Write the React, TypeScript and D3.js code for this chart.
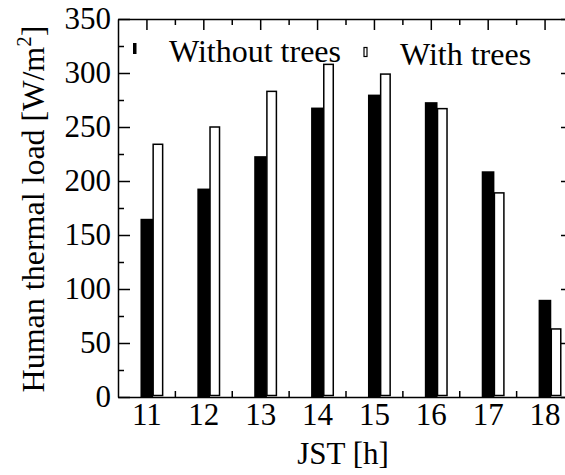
import React, { useRef, useEffect } from 'react';
import * as d3 from 'd3';

// JST hours and human thermal load [W/m2]
const hours = [11, 12, 13, 14, 15, 16, 17, 18];
const withoutTrees = [165, 193, 223, 268, 280, 273, 209, 90];
const withTrees = [234, 250, 283, 308, 299, 267, 189, 63];
const yMajorTicks = [0, 50, 100, 150, 200, 250, 300, 350];
const yMinorTicks = [25, 75, 125, 175, 225, 275, 325];
const xMinorTicks = [11.5, 12.5, 13.5, 14.5, 15.5, 16.5, 17.5];

const seriesNames = ['Without trees', 'With trees'];

export default function App() {
  const svgRef = useRef<SVGSVGElement>(null);

  const width = 565;
  const height = 475;
  const margin = { top: 19, right: -8, bottom: 78, left: 118 };
  const font = '"Liberation Serif", "Times New Roman", serif';

  useEffect(() => {
    if (!svgRef.current) return;
    const svg = d3.select(svgRef.current);
    svg.selectAll('*').remove();

    const innerWidth = width - margin.left - margin.right;
    const innerHeight = height - margin.top - margin.bottom;

    const x = d3.scaleLinear().domain([10.5, 18.5]).range([0, innerWidth]);
    const y = d3.scaleLinear().domain([0, 350]).range([innerHeight, 0]);

    const g = svg.append('g').attr('transform', `translate(${margin.left},${margin.top})`);

    // bars
    const data = hours.map((h, i) => ({ h, a: withoutTrees[i], b: withTrees[i] }));
    g.selectAll('.bar-a')
      .data(data)
      .enter()
      .append('rect')
      .attr('class', 'bar-a')
      .attr('x', d => x(d.h - 0.105))
      .attr('y', d => y(d.a))
      .attr('width', x(0.118) - x(-0.105))
      .attr('height', d => y(0) - y(d.a))
      .attr('fill', '#000');

    g.selectAll('.bar-b')
      .data(data)
      .enter()
      .append('rect')
      .attr('class', 'bar-b')
      .attr('x', d => x(d.h + 0.118))
      .attr('y', d => y(d.b))
      .attr('width', x(0.285) - x(0.118))
      .attr('height', d => y(0) - y(d.b) - 1.5)
      .attr('fill', '#fff')
      .attr('stroke', '#000')
      .attr('stroke-width', 1.5);

    const styleAxis = (sel: d3.Selection<SVGGElement, unknown, null, undefined>) => {
      sel.selectAll('.domain').attr('stroke', '#000').attr('stroke-width', 1.5);
      sel.selectAll('line').attr('stroke', '#000').attr('stroke-width', 1.5);
    };

    // left axis
    const left = g.append('g').call(
      d3.axisLeft(y).tickValues(yMajorTicks).tickSize(-12).tickPadding(7).tickSizeOuter(0)
    );
    left.attr('font-family', font).attr('font-size', 31);
    left.selectAll('text').attr('fill', '#000');
    styleAxis(left);
    g.append('g')
      .call(d3.axisLeft(y).tickValues(yMinorTicks).tickSize(-6).tickFormat(() => '').tickSizeOuter(0))
      .call(styleAxis)
      .call(s => s.select('.domain').remove());

    // right axis
    const right = g.append('g').attr('transform', `translate(${innerWidth},0)`);
    right.call(d3.axisRight(y).tickValues(yMajorTicks).tickSize(-12).tickFormat(() => '').tickSizeOuter(0)).call(styleAxis);
    right.append('g')
      .call(d3.axisRight(y).tickValues(yMinorTicks).tickSize(-6).tickFormat(() => '').tickSizeOuter(0))
      .call(styleAxis)
      .call(s => s.select('.domain').remove());

    // bottom axis
    const bottom = g.append('g').attr('transform', `translate(0,${innerHeight})`);
    bottom.call(d3.axisBottom(x).tickValues(hours).tickSize(-12).tickPadding(6).tickSizeOuter(0).tickFormat(d3.format('d')));
    bottom.attr('font-family', font).attr('font-size', 31);
    bottom.selectAll('text').attr('fill', '#000').attr('dy', '0.71em');
    styleAxis(bottom);
    g.append('g')
      .attr('transform', `translate(0,${innerHeight})`)
      .call(d3.axisBottom(x).tickValues(xMinorTicks).tickSize(-6).tickFormat(() => '').tickSizeOuter(0))
      .call(styleAxis)
      .call(s => s.select('.domain').remove());

    // top axis
    const top = g.append('g');
    top.call(d3.axisTop(x).tickValues(hours).tickSize(-11).tickFormat(() => '').tickSizeOuter(0)).call(styleAxis);
    top.append('g')
      .call(d3.axisTop(x).tickValues(xMinorTicks).tickSize(-6).tickFormat(() => '').tickSizeOuter(0))
      .call(styleAxis)
      .call(s => s.select('.domain').remove());

    // axis titles
    svg.append('text')
      .attr('x', 343)
      .attr('y', 464)
      .attr('text-anchor', 'middle')
      .attr('font-family', font)
      .attr('font-size', 31)
      .text('JST [h]');

    const yTitle = svg.append('text')
      .attr('transform', 'translate(44,209) rotate(-90)')
      .attr('text-anchor', 'middle')
      .attr('font-family', font)
      .attr('font-size', 32);
    yTitle.append('tspan').text('Human thermal load [W/m');
    yTitle.append('tspan').attr('font-size', 21).attr('dy', -13).text('2');
    yTitle.append('tspan').attr('dy', 13).text(']');

    // legend
    const legend = svg.append('g').attr('font-family', font).attr('font-size', 32);
    legend.append('rect').attr('x', 133).attr('y', 43).attr('width', 3.5).attr('height', 11).attr('fill', '#000');
    legend.append('text').attr('x', 169).attr('y', 62).text(seriesNames[0]);
    legend.append('rect').attr('x', 364).attr('y', 47.5).attr('width', 3).attr('height', 9)
      .attr('fill', '#fff').attr('stroke', '#000').attr('stroke-width', 1.2);
    legend.append('text').attr('x', 400).attr('y', 65).text(seriesNames[1]);
  }, []);

  return (
    <svg
      ref={svgRef}
      width={width}
      height={height}
      style={{ position: 'absolute', left: 0, top: 0, background: '#fff' }}
    />
  );
}
